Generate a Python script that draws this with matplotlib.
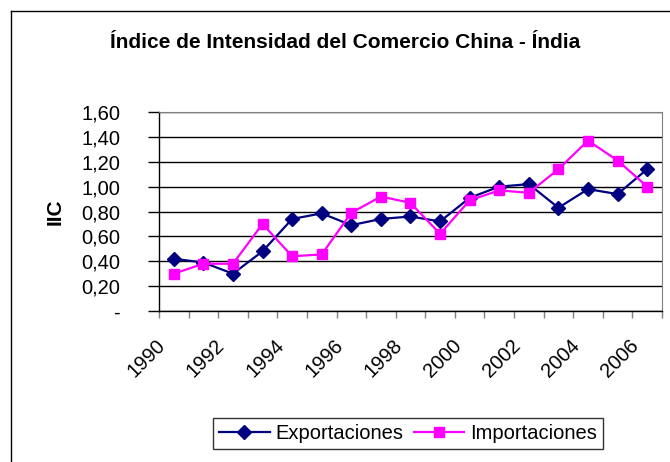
import matplotlib.pyplot as plt
from matplotlib.ticker import FixedLocator, FuncFormatter
from matplotlib.lines import Line2D
from matplotlib.transforms import ScaledTranslation
import numpy as np

plt.rcParams['font.family'] = ['Liberation Sans', 'DejaVu Sans']

# Datos
anios = list(range(1990, 2007))
exportaciones = [0.42, 0.39, 0.30, 0.48, 0.74, 0.785, 0.69, 0.74, 0.76,
                 0.72, 0.91, 1.00, 1.02, 0.83, 0.98, 0.94, 1.14]
importaciones = [0.30, 0.38, 0.38, 0.70, 0.44, 0.455, 0.79, 0.92, 0.87,
                 0.62, 0.89, 0.97, 0.95, 1.14, 1.37, 1.21, 1.00]
etiquetas_x = [str(a) for a in anios[::2]]
ticks_y = [0, 0.2, 0.4, 0.6, 0.8, 1.0, 1.2, 1.4, 1.6]

fig = plt.figure(figsize=(6.7, 4.62), dpi=100)
ax = fig.add_axes([0.2373, 0.3268, 0.7507, 0.4308])

x = np.arange(len(anios))
ax.plot(x, exportaciones, color='#000080', linewidth=1.6, marker='D',
        markersize=7, label='Exportaciones')
ax.plot(x, importaciones, color='#FF00FF', linewidth=1.6, marker='s',
        markersize=7.5, label='Importaciones')

# Ejes
ax.set_xlim(-0.5, len(anios) - 0.5)
ax.set_ylim(0, 1.6)
ax.yaxis.set_major_locator(FixedLocator(ticks_y))
ax.yaxis.set_major_formatter(FuncFormatter(
    lambda v, p: '-' if v == 0 else f'{v:.2f}'.replace('.', ',')))
ax.grid(axis='y', color='black', linewidth=1)
ax.set_axisbelow(True)

ax.set_xticks(x[::2])
ax.set_xticklabels(etiquetas_x, rotation=45, ha='right', rotation_mode='anchor')
ax.set_xticks(np.arange(-0.5, len(anios)), minor=True)
ax.tick_params(axis='x', which='major', length=0, pad=18, labelsize=14.5)
ax.tick_params(axis='x', which='minor', length=5, width=1, color='#808080')
ax.tick_params(axis='y', length=8, width=1, labelsize=14.5, pad=20)
desplazamiento = ScaledTranslation(-18 / 100, 0, fig.dpi_scale_trans)
for lbl in ax.get_xticklabels():
    lbl.set_transform(lbl.get_transform() + desplazamiento)

for lado in ['top', 'right']:
    ax.spines[lado].set_color('#808080')
for lado in ['left', 'bottom']:
    ax.spines[lado].set_color('black')
    ax.spines[lado].set_linewidth(1)

ax.set_ylabel('IIC', fontsize=15, fontweight='bold', labelpad=12)

fig.text(0.515, 0.907, 'Índice de Intensidad del Comercio China - Índia',
         ha='center', va='center', fontsize=15, fontweight='bold')

fig.legend(loc='center', bbox_to_anchor=(0.609, 0.061), ncol=2, frameon=True,
           fancybox=False, edgecolor='black', fontsize=14.5, handlelength=2.5,
           columnspacing=0.5, handletextpad=0.3, borderpad=0.3)

# Marco del gráfico (solo bordes izquierdo y superior visibles)
x0, y0 = 11 / 670, 1 - 11 / 462
fig.add_artist(Line2D([x0, x0], [0, y0], transform=fig.transFigure, color='black', linewidth=1))
fig.add_artist(Line2D([x0, 1], [y0, y0], transform=fig.transFigure, color='black', linewidth=1))

plt.savefig('out.png', dpi=100)
plt.close()
